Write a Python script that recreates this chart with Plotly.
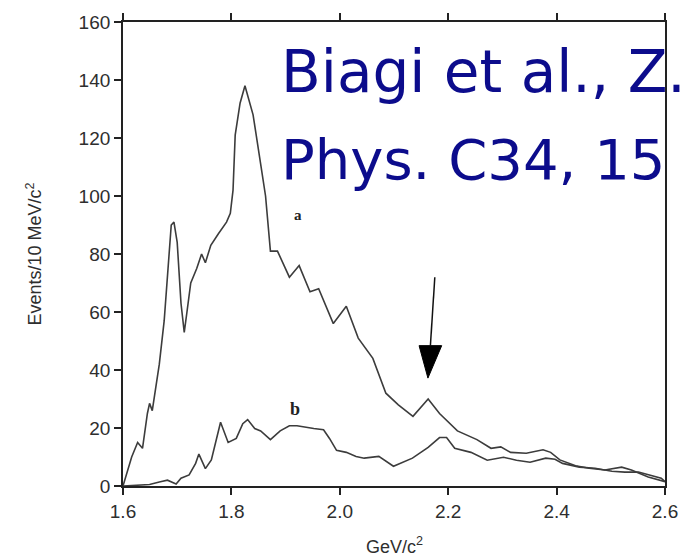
import plotly.graph_objects as go

# ---- data ----
mass_a = [1.600, 1.616, 1.627, 1.636, 1.645, 1.649, 1.654, 1.667, 1.676, 1.682,
          1.689, 1.694, 1.700, 1.707, 1.713, 1.718, 1.725, 1.736, 1.745, 1.752,
          1.762, 1.776, 1.791, 1.798, 1.803, 1.807, 1.816, 1.825, 1.834, 1.840,
          1.854, 1.863, 1.872, 1.885, 1.907, 1.925, 1.945, 1.961, 1.988, 2.012,
          2.034, 2.061, 2.085, 2.108, 2.135, 2.163, 2.184, 2.217, 2.253, 2.279,
          2.297, 2.315, 2.344, 2.375, 2.389, 2.406, 2.435, 2.460, 2.489, 2.520,
          2.538, 2.569, 2.600]
events_a = [0, 10, 15, 13, 25, 28.5, 26, 42, 57, 71,
            90, 91, 84, 63, 53, 60, 70, 75, 80, 77,
            83, 87, 91, 94, 102, 121, 132, 138, 132, 128,
            111, 100, 81, 81, 72, 76, 67, 68, 56, 62,
            51, 44, 32, 28, 24, 30, 25, 19, 16, 13,
            13.5, 11.6, 11.3, 12.5, 11.6, 9, 7, 6.1, 5.5, 6.5,
            5.5, 3.1, 1.5]

mass_b = [1.600, 1.630, 1.649, 1.667, 1.682, 1.698, 1.707, 1.722, 1.734, 1.740,
          1.752, 1.763, 1.780, 1.794, 1.809, 1.821, 1.830, 1.843, 1.854, 1.872,
          1.890, 1.907, 1.921, 1.952, 1.970, 1.981, 1.994, 2.012, 2.030, 2.045,
          2.072, 2.099, 2.134, 2.163, 2.184, 2.197, 2.212, 2.242, 2.272, 2.302,
          2.326, 2.351, 2.380, 2.397, 2.411, 2.442, 2.471, 2.502, 2.526, 2.551,
          2.593, 2.600]
events_b = [0, 0.3, 0.5, 1.4, 2, 0.7, 2.7, 3.8, 7.8, 11,
            6, 9, 22, 15, 16.4, 21.5, 22.9, 19.8, 19, 16,
            19, 20.8, 20.8, 19.8, 19.4, 16.4, 12.3, 11.6, 10.2, 9.6,
            10.2, 6.8, 9.6, 13.3, 16.7, 16.7, 13, 11.6, 8.9, 9.9,
            8.9, 8.2, 9.6, 9.2, 7.8, 6.5, 6.1, 5.1, 4.8, 4.8,
            2.7, 1.5]

x_ticks = [1.6, 1.8, 2.0, 2.2, 2.4, 2.6]
x_ticktext = ["1.6", "1.8", "2.0", "2.2", "2.4", "2.6"]
y_ticks = [0, 20, 40, 60, 80, 100, 120, 140, 160]

curve_labels = [("a", 1.923, 93.5, 15), ("b", 1.918, 26.6, 18)]
arrow_tail = (2.1753, 72.0)
arrow_base = (2.1463, 2.188, 48.4)   # x left, x right, y of head base
arrow_tip = (2.1626, 37.2)

line_col = "#3c3c3c"

fig = go.Figure()
fig.add_trace(go.Scatter(x=mass_a, y=events_a, mode="lines",
                         line=dict(color=line_col, width=1.6), showlegend=False))
fig.add_trace(go.Scatter(x=mass_b, y=events_b, mode="lines",
                         line=dict(color=line_col, width=1.6), showlegend=False))

tick_font = dict(family="Liberation Sans, Arial, sans-serif", size=19, color="#2e2e2e")

fig.update_xaxes(range=[1.6, 2.6], tickvals=x_ticks, ticktext=x_ticktext,
                 showgrid=False, zeroline=False, showline=True, linecolor="#222222",
                 linewidth=1.8, mirror="ticks", ticks="outside", ticklen=7,
                 tickcolor="#222222", tickwidth=1.5, tickfont=tick_font)
fig.update_yaxes(range=[0, 160], tickvals=y_ticks,
                 showgrid=False, zeroline=False, showline=True, linecolor="#222222",
                 linewidth=1.8, mirror=True, ticks="outside", ticklen=7,
                 tickcolor="#222222", tickwidth=1.5, tickfont=tick_font)

annotations = []
for txt, xx, yy, sz in curve_labels:
    annotations.append(dict(x=xx, y=yy, xref="x", yref="y", text="<b>%s</b>" % txt,
                            showarrow=False,
                            font=dict(family="Liberation Serif, Times New Roman, serif",
                                      size=sz, color="#222222")))
annotations.append(dict(x=-0.19, y=0.50, xref="paper", yref="paper",
                        text="Events/10 MeV/c<sup>2</sup>", textangle=-90, showarrow=False,
                        font=dict(family="Liberation Sans, Arial, sans-serif", size=18,
                                  color="#2e2e2e")))
annotations.append(dict(x=0.5, y=-0.158, xref="paper", yref="paper",
                        text="GeV/c<sup>2</sup>", showarrow=False,
                        font=dict(family="Liberation Sans, Arial, sans-serif", size=18,
                                  color="#2e2e2e")))
annotations.append(dict(x=0.2886, y=0.893, xref="paper", yref="paper",
                        text="Biagi et al., Z.", showarrow=False, xanchor="left",
                        yanchor="middle",
                        font=dict(family="DejaVu Sans, sans-serif", size=58, color="#0c0c8c")))
annotations.append(dict(x=0.2886, y=0.703, xref="paper", yref="paper",
                        text="Phys. C34, 15", showarrow=False, xanchor="left",
                        yanchor="middle",
                        font=dict(family="DejaVu Sans, sans-serif", size=56, color="#0c0c8c")))

shapes = [
    dict(type="line", xref="x", yref="y",
         x0=arrow_tail[0], y0=arrow_tail[1],
         x1=(arrow_base[0] + arrow_base[1]) / 2, y1=arrow_base[2],
         line=dict(color="#111111", width=1.5)),
    dict(type="path", xref="x", yref="y",
         path="M %f,%f L %f,%f L %f,%f Z" % (arrow_base[0], arrow_base[2],
                                            arrow_base[1], arrow_base[2],
                                            arrow_tip[0], arrow_tip[1]),
         fillcolor="#000000", line=dict(color="#000000", width=1)),
]

fig.update_layout(width=690, height=558, autosize=False,
                  margin=dict(l=123, r=16, t=17, b=72),
                  plot_bgcolor="white", paper_bgcolor="white",
                  annotations=annotations, shapes=shapes, showlegend=False)

fig.write_html("out.html")
